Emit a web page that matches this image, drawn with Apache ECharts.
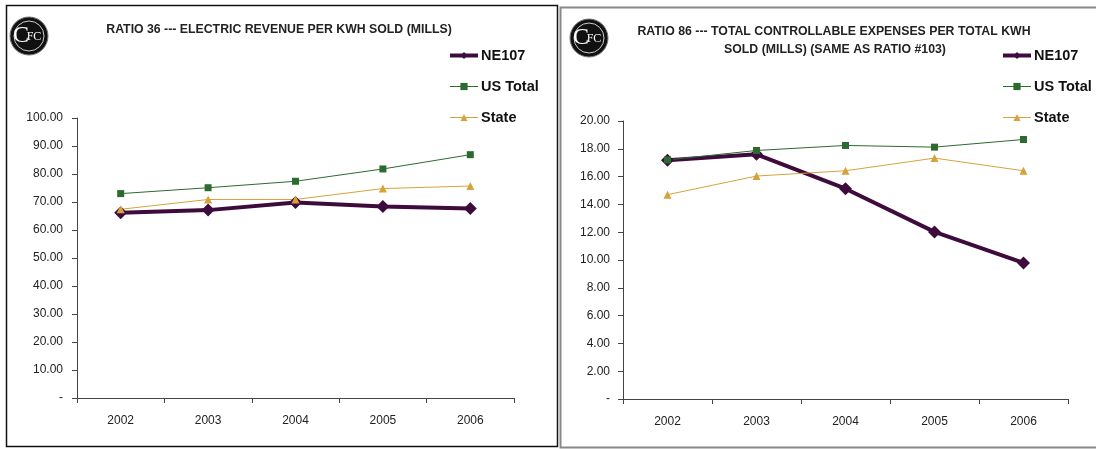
<!DOCTYPE html>
<html>
<head>
<meta charset="utf-8">
<style>
  html, body { margin: 0; padding: 0; background: #fff; }
  #chart { width: 1096px; height: 449px; }
</style>
<script src="https://cdn.jsdelivr.net/npm/echarts@6/dist/echarts.min.js"></script>
</head>
<body>
<div id="chart"></div>
<script>
// Years shared by both panels
const years = ['2002', '2003', '2004', '2005', '2006'];

// Ratio 36 — electric revenue per kWh sold (mills)
const r36Ne107 = [66.2, 67.1, 69.8, 68.4, 67.7];
const r36UsTotal = [73.0, 75.1, 77.4, 81.8, 86.9];
const r36State = [67.4, 70.9, 70.9, 74.8, 75.7];

// Ratio 86 — total controllable expenses per total kWh sold (mills)
const r86Ne107 = [17.18, 17.6, 15.13, 12.02, 9.79];
const r86UsTotal = [17.2, 17.88, 18.24, 18.12, 18.67];
const r86State = [14.7, 16.04, 16.42, 17.33, 16.42];

const seriesNames = ['NE107', 'US Total', 'State'];
const title36 = 'RATIO 36 --- ELECTRIC REVENUE PER KWH SOLD (MILLS)';
const title86a = 'RATIO 86 --- TOTAL CONTROLLABLE EXPENSES PER TOTAL KWH';
const title86b = 'SOLD (MILLS) (SAME AS RATIO #103)';

const C_NE = '#3e0c3c';
const C_US = '#2d6a2f';
const C_ST = '#d6a23c';
const AXIS = '#444';
const FONT = 'Liberation Sans, Arial, sans-serif';

const chart = echarts.init(document.getElementById('chart'), null, { renderer: 'canvas' });

function yAxis(gridIndex, max, interval, margin) {
  return {
    type: 'value', gridIndex, min: 0, max, interval,
    axisLine: { show: true, lineStyle: { color: AXIS, width: 1 } },
    axisTick: { show: true, length: 5, lineStyle: { color: AXIS } },
    splitLine: { show: false },
    axisLabel: {
      margin, color: '#222', fontFamily: FONT, fontSize: 12,
      formatter: v => (v === 0 ? '-' : v.toFixed(2))
    }
  };
}

function xAxis(gridIndex) {
  return {
    type: 'category', gridIndex, data: years, boundaryGap: true,
    axisLine: { show: true, lineStyle: { color: AXIS, width: 1 } },
    axisTick: { show: true, length: 5, lineStyle: { color: AXIS } },
    axisLabel: { margin: 17, color: '#222', fontFamily: FONT, fontSize: 12 }
  };
}

function lines(idx, ne, us, st) {
  return [
    {
      name: 'NE107', type: 'line', xAxisIndex: idx, yAxisIndex: idx, data: ne,
      symbol: 'diamond', symbolSize: 13,
      lineStyle: { color: C_NE, width: 4 }, itemStyle: { color: C_NE }
    },
    {
      name: 'US Total', type: 'line', xAxisIndex: idx, yAxisIndex: idx, data: us,
      symbol: 'rect', symbolSize: 7,
      lineStyle: { color: C_US, width: 1 }, itemStyle: { color: C_US }
    },
    {
      name: 'State', type: 'line', xAxisIndex: idx, yAxisIndex: idx, data: st,
      symbol: 'triangle', symbolSize: 8,
      lineStyle: { color: C_ST, width: 1 }, itemStyle: { color: C_ST }
    }
  ];
}

// Legend entries: thick line for NE107, thin lines for the comparison series
const legendLineWidth = { 'NE107': 4, 'US Total': 1, 'State': 1 };

function legend(left, top) {
  return {
    orient: 'vertical', left, top, padding: 0,
    itemWidth: 28, itemHeight: 9, itemGap: 16,
    selectedMode: false,
    data: seriesNames.map(n => ({
      name: n,
      lineStyle: { width: legendLineWidth[n] }
    })),
    textStyle: { fontFamily: FONT, fontSize: 14.5, fontWeight: 'bold', color: '#111', padding: [0, 0, 0, -2] }
  };
}

function logo(cx, cy) {
  return {
    type: 'group', children: [
      { type: 'circle', shape: { cx, cy, r: 19 }, style: { fill: '#111', stroke: '#777', lineWidth: 1 } },
      { type: 'circle', shape: { cx, cy, r: 15 }, style: { fill: 'none', stroke: '#ccc', lineWidth: 1 } },
      { type: 'text', x: cx - 8, y: cy, style: { text: 'C', fill: '#fff', font: '24px Liberation Serif, serif', textAlign: 'center', textVerticalAlign: 'middle' } },
      { type: 'text', x: cx + 5, y: cy + 1, style: { text: 'FC', fill: '#fff', font: '12px Liberation Serif, serif', textAlign: 'center', textVerticalAlign: 'middle' } }
    ]
  };
}

const titleFont = 'bold 12.3px "Liberation Sans Narrow", "Liberation Sans", Arial, sans-serif';

chart.setOption({
  animation: false,
  grid: [
    { left: 77, top: 118, width: 437, height: 280 },
    { left: 623, top: 121, width: 445, height: 278 }
  ],
  xAxis: [xAxis(0), xAxis(1)],
  yAxis: [yAxis(0, 100, 10, 14), yAxis(1, 20, 2, 13)],
  legend: [legend(448, 48), legend(1001, 48)],
  series: [
    ...lines(0, r36Ne107, r36UsTotal, r36State),
    ...lines(1, r86Ne107, r86UsTotal, r86State)
  ],
  graphic: [
    { type: 'rect', shape: { x: 6.5, y: 5.5, width: 551, height: 441 }, style: { fill: 'none', stroke: '#111', lineWidth: 1.5 }, silent: true },
    { type: 'rect', shape: { x: 560.5, y: 7.5, width: 540, height: 440 }, style: { fill: 'none', stroke: '#888', lineWidth: 2 }, silent: true },
    logo(29, 36),
    logo(589, 38),
    { type: 'text', x: 279, y: 30, style: { text: title36, fill: '#222', font: titleFont, textAlign: 'center', textVerticalAlign: 'middle' } },
    { type: 'text', x: 834, y: 32, style: { text: title86a, fill: '#222', font: titleFont, textAlign: 'center', textVerticalAlign: 'middle' } },
    { type: 'text', x: 835, y: 50, style: { text: title86b, fill: '#222', font: titleFont, textAlign: 'center', textVerticalAlign: 'middle' } }
  ]
});
</script>
</body>
</html>
